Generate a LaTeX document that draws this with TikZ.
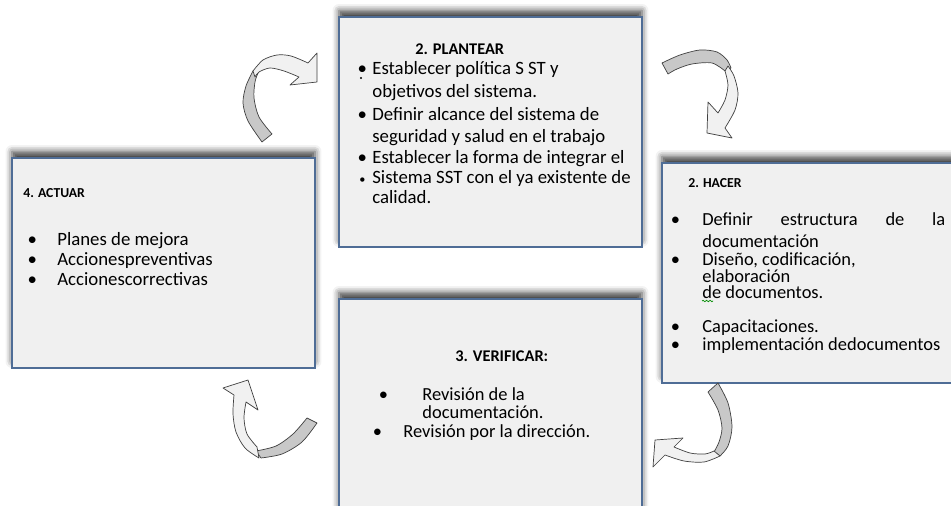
\documentclass[tikz,border=0pt]{standalone}
\usepackage{fontspec}
\setmainfont{Carlito}
\usepackage{tikz}
\usetikzlibrary{shapes, arrows.meta, positioning, shadows.blur, decorations.pathmorphing}
\definecolor{boxblue}{RGB}{79,109,150}
\definecolor{boxfill}{RGB}{240,240,240}
\definecolor{folddark}{RGB}{200,200,200}
\definecolor{foldlight}{RGB}{241,241,241}
\newcommand{\bul}[1]{\llap{\makebox[0pt]{\textbullet}\hspace{#1}}}
\newcommand{\sbul}[1]{\llap{\makebox[0pt]{\scriptsize\textbullet}\hspace{#1}}}

\begin{document}
\begin{tikzpicture}
  [
    x=0.02cm, y=-0.02cm,
    Box/.style={rectangle, draw=boxblue, line width=0.9pt, fill=boxfill, minimum width=6.06cm,
      blur shadow={shadow xshift=0pt, shadow yshift=0.13cm, shadow blur radius=0.13cm, shadow opacity=75}},
    Title/.style={anchor=base west, inner sep=0pt, font=\bfseries\fontsize{9.3}{11}\selectfont},
    SmallTitle/.style={Title, font=\bfseries\fontsize{7.8}{9}\selectfont},
    Body/.style={anchor=north west, inner sep=0pt, align=left},
    Back/.style={draw=black!75, line width=0.4pt, fill=folddark, line join=round},
    Front/.style={draw=black!75, line width=0.4pt, fill=foldlight, line join=round}
  ]
  \useasboundingbox (0,0) rectangle (951,506);
  \clip (0,0) rectangle (951,506);

  % Boxes
  \node[Box, minimum height=4.6cm] (plantear) at (490.5,132) {};
  \node[Box, minimum height=4.2cm] (actuar) at (163.5,263) {};
  \node[Box, minimum height=4.4cm] (hacer) at (813.5,273) {};
  \node[Box, minimum height=4.42cm] (verificar) at (490.5,409.5) {};

  % Titles
  \node[Title] (plantear-title) at (415,55) {2. PLANTEAR};
  \node[SmallTitle] (actuar-title) at (23,198) {4. ACTUAR};
  \node[SmallTitle] (hacer-title) at (688,188) {2. HACER};
  \node[Title] (verificar-title) at (455,362) {3. VERIFICAR:};

  % Text
  \node[Body, font=\fontsize{10.7}{11.4}\selectfont] (plantear-text) at (372,61)
    {\bul{0.2cm}Establecer política S ST y\\[1.5pt]
     objetivos del sistema.\\[1.9pt]
     \bul{0.2cm}Definir alcance del sistema de\\[1pt]
     seguridad y salud en el trabajo\\[0.7pt]
     \bul{0.2cm}Establecer la forma de integrar el\\
     \sbul{0.2cm}Sistema SST con el ya existente de\\
     calidad.};
  \fill (361,78) circle[radius=0.7pt];
  \node[Body, font=\fontsize{10.7}{11.4}\selectfont] (actuar-text) at (57,232)
    {\bul{0.5cm}Planes de mejora\\
     \bul{0.5cm}Accionespreventivas\\
     \bul{0.5cm}Accionescorrectivas};
  \node[Body, font=\fontsize{10.5}{9.7}\selectfont] (hacer-text) at (702,212)
    {\bul{0.54cm}\makebox[4.86cm][s]{Definir\hfill estructura\hfill de\hfill la}\\[2.8pt]
     documentación\\[0.6pt]
     \bul{0.54cm}Diseño, codificación,\\
     elaboración\\[-0.5pt]
     de documentos.\\[9.7pt]
     \bul{0.54cm}Capacitaciones.\\[0.6pt]
     \bul{0.54cm}implementación dedocumentos};
  \draw[green!55!black, line width=0.4pt, decorate, decoration={snake, amplitude=0.4pt, segment length=2pt}]
    (702,301) -- (713,301);
  \node[Body, font=\fontsize{10.5}{10.2}\selectfont] (verificar-text) at (422,387)
    {\bul{0.78cm}Revisión de la\\
     documentación.};
  \node[Title, font=\fontsize{10.5}{11}\selectfont] (verificar-more) at (403,438)
    {\bul{0.52cm}Revisión por la dirección.};

  % Arrows
  \draw[Back] plot[smooth] coordinates {(253,71) (246,86) (243,103) (248,121) (262,142)}
    -- plot[smooth] coordinates {(272,134) (259,117) (254,98) (255,82) (258,73)} -- cycle;
  \draw[Front] plot[smooth] coordinates {(253,71) (263,60) (277,55) (291,56) (308,63)}
    -- (317,53) -- (317,82) -- (290,85)
    -- plot[smooth] coordinates {(299,77) (284,71) (270,68) (259,72) (255,77)} -- cycle;

  \draw[Back] plot[smooth] coordinates {(662,63) (680,55) (700,50) (717,52) (727,60) (731,68)}
    -- plot[smooth] coordinates {(725,71) (712,63) (692,64) (677,69) (668,74)} -- cycle;
  \draw[Front] plot[smooth] coordinates {(728,66) (734,76) (738,93) (735,110) (725,128)}
    -- (732,138) -- (707,133) -- (708,102)
    -- plot[smooth] coordinates {(718,113) (725,100) (728,85) (725,71)} -- cycle;

  \draw[Back] plot[smooth] coordinates {(718,383) (728,403) (732,427) (728,446) (720,456)}
    -- plot[smooth] coordinates {(714,452) (719,442) (722,428) (718,410) (708,392)} -- cycle;
  \draw[Front] plot[smooth] coordinates {(720,456) (704,462) (684,461) (665,455)}
    -- (653,467) -- (655,440) -- (683,438)
    -- plot[smooth] coordinates {(674,447) (690,453) (705,454) (714,451)} -- cycle;

  \draw[Back] plot[smooth] coordinates {(317,423) (302,442) (282,454) (261,458)}
    -- plot[smooth] coordinates {(256,451) (276,446) (293,434) (307,418)} -- cycle;
  \draw[Front] plot[smooth] coordinates {(259,458) (245,448) (236,432) (233,414) (234,395)}
    -- (223,388) -- (248,380) -- (258,410)
    -- plot[smooth] coordinates {(246,402) (244,418) (247,434) (257,447)} -- cycle;

\end{tikzpicture}
\end{document}
